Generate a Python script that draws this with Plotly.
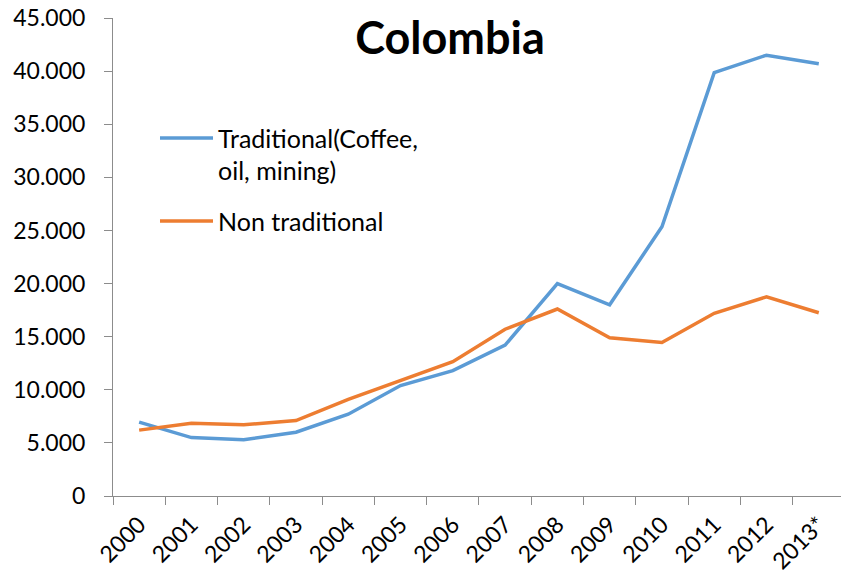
import plotly.graph_objects as go

# Colombian exports by type, 2000-2013 (2013 preliminary)
years = ["2000", "2001", "2002", "2003", "2004", "2005", "2006",
         "2007", "2008", "2009", "2010", "2011", "2012", "2013*"]
traditional = [6950, 5500, 5300, 6000, 7700, 10400, 11800,
               14200, 20000, 18000, 25350, 39850, 41500, 40700]
non_traditional = [6200, 6850, 6700, 7100, 9100, 10900, 12650,
                   15700, 17600, 14900, 14450, 17200, 18750, 17250]

series_names = ["Traditional(Coffee,<br>oil, mining)", "Non traditional"]
series_colors = ["#5B9BD5", "#ED7D31"]

W, H = 841, 575
ML, MR, MT, MB = 113, 0, 18, 79
PW, PH = W - ML - MR, H - MT - MB
FONT = "Lato"

fig = go.Figure()
for vals, name, col in zip([traditional, non_traditional], series_names, series_colors):
    fig.add_trace(go.Scatter(x=years, y=vals, mode="lines", name=name,
                             line=dict(color=col, width=3.5), showlegend=False))

# Hand-placed legend inside the plot area
def px_x(px):
    return (px - ML) / PW

def px_y(py):
    return (H - MB - py) / PH

legend_rows = [
    (138, ["Traditional(Coffee,", "oil, mining)"], series_colors[0]),
    (221, ["Non traditional"], series_colors[1]),
]
for y0, lines, col in legend_rows:
    fig.add_shape(type="line", xref="paper", yref="paper",
                  x0=px_x(160), x1=px_x(213), y0=px_y(y0), y1=px_y(y0),
                  line=dict(color=col, width=3.5))
    for i, txt in enumerate(lines):
        fig.add_annotation(xref="paper", yref="paper", x=px_x(216), y=px_y(y0 + 32 * i),
                           text=txt, showarrow=False, xanchor="left", yanchor="middle",
                           font=dict(family=FONT, size=25, color="#000000"))

fig.update_layout(
    width=W, height=H,
    margin=dict(l=ML, r=MR, t=MT, b=MB, autoexpand=False),
    paper_bgcolor="white", plot_bgcolor="white",
    separators=",.",
    font=dict(family=FONT, size=24, color="#000000"),
    title=dict(text="<b>Colombia</b>", x=450 / W, xanchor="center",
               y=1 - 38 / H, yanchor="middle",
               font=dict(family=FONT, size=45, color="#000000")),
    xaxis=dict(type="category", range=[-0.5, -0.5 + PW / 52.28],
               showline=True, linecolor="#8C8C8C", linewidth=1,
               ticks="outside", ticklen=8, tickcolor="#8C8C8C",
               tickson="boundaries", tickangle=-45, showgrid=False,
               zeroline=False, ticklabelstandoff=5, automargin=False,
               tickfont=dict(family=FONT, size=23)),
    yaxis=dict(range=[0, 45000], tickvals=list(range(0, 45001, 5000)),
               tickformat=",d", showline=True, linecolor="#8C8C8C", linewidth=1,
               ticks="outside", ticklen=8, tickcolor="#8C8C8C",
               showgrid=False, zeroline=False, ticklabelstandoff=14,
               automargin=False, tickfont=dict(family=FONT, size=23)),
)

fig.write_html("out.html")
